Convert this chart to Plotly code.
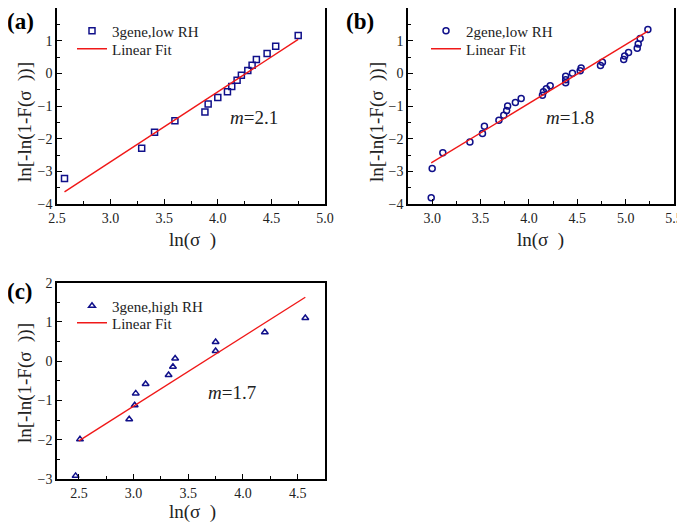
import plotly.graph_objects as go

# ---------------- data ----------------
a_x = [2.57, 3.29, 3.41, 3.60, 3.88, 3.91, 4.00, 4.09, 4.13, 4.18, 4.22, 4.28, 4.32, 4.36, 4.46, 4.54, 4.75]
a_y = [-3.22, -2.29, -1.80, -1.45, -1.18, -0.94, -0.74, -0.56, -0.40, -0.21, -0.06, 0.09, 0.25, 0.42, 0.61, 0.83, 1.16]
a_fit_x = [2.57, 4.75]
a_fit_y = [-3.63, 1.04]

b_x = [2.99, 3.00, 3.11, 3.39, 3.52, 3.54, 3.69, 3.74, 3.77, 3.78, 3.86, 3.92, 4.14, 4.15, 4.18, 4.22,
       4.38, 4.38, 4.38, 4.45, 4.53, 4.54, 4.74, 4.76, 4.98, 4.99, 5.03, 5.12, 5.13, 5.15, 5.23]
b_y = [-3.81, -2.91, -2.43, -2.10, -1.84, -1.62, -1.44, -1.28, -1.14, -1.00, -0.89, -0.77, -0.67, -0.56, -0.47, -0.38,
       -0.29, -0.20, -0.09, 0.00, 0.08, 0.16, 0.24, 0.34, 0.42, 0.53, 0.64, 0.77, 0.90, 1.07, 1.34]
b_fit_x = [2.99, 5.23]
b_fit_y = [-2.74, 1.29]

c_x = [2.47, 2.51, 2.96, 3.01, 3.02, 3.11, 3.32, 3.36, 3.38, 3.75, 3.75, 4.20, 4.57]
c_y = [-2.92, -1.99, -1.48, -1.12, -0.82, -0.58, -0.35, -0.14, 0.07, 0.26, 0.49, 0.74, 1.10]
c_fit_x = [2.50, 4.57]
c_fit_y = [-2.03, 1.63]

names = ["3gene,low RH", "2gene,low RH", "3gene,high RH"]
slopes = ["2.1", "1.8", "1.7"]
panel_labels = ["(a)", "(b)", "(c)"]

# ---------------- style ----------------
W, H = 685, 527          # page size
OX, OY = 8, 8            # page offset of the plot div (body margin)
FW, FH = W - OX, H - OY  # figure size
FONT = "Liberation Serif"
BLUE = "#10108a"
RED = "#f01818"


def px_x(p):
    return min(1.0, max(0.0, (p - OX) / FW))


def px_y(p):
    return min(1.0, max(0.0, 1 - (p - OY) / FH))


fig = go.Figure()

panels = [
    dict(x=a_x, y=a_y, fx=a_fit_x, fy=a_fit_y, sym="square-open", xr=[2.5, 5.0], yr=[-4, 2],
         px=(57, 325), py=(8, 204), leg=(72, 31, 49)),
    dict(x=b_x, y=b_y, fx=b_fit_x, fy=b_fit_y, sym="circle-open", xr=[2.75, 5.5], yr=[-4, 2],
         px=(408, 674), py=(8, 204), leg=(426, 31, 49)),
    dict(x=c_x, y=c_y, fx=c_fit_x, fy=c_fit_y, sym="triangle-up-open", xr=[2.3, 4.75], yr=[-3, 2],
         px=(57, 325), py=(282.7, 479), leg=(72, 306, 323)),
]

annotations = []
layout_axes = {}
legends = {}
for i, p in enumerate(panels):
    sfx = "" if i == 0 else str(i + 1)
    lg1 = "legend" + ("" if i == 0 else str(2 * i + 1))
    lg2 = "legend" + str(2 * i + 2)
    fig.add_trace(go.Scatter(x=p["x"], y=p["y"], mode="markers", name=names[i],
                             marker=dict(symbol=p["sym"], size=6, color=BLUE, line=dict(width=1.5, color=BLUE)),
                             xaxis="x" + sfx, yaxis="y" + sfx, legend=lg1))
    fig.add_trace(go.Scatter(x=p["fx"], y=p["fy"], mode="lines", name="Linear Fit",
                             line=dict(color=RED, width=1.4),
                             xaxis="x" + sfx, yaxis="y" + sfx, legend=lg2))
    x0, x1 = p["px"]
    y0, y1 = p["py"]
    common = dict(showline=True, linecolor="black", linewidth=1.5, mirror=True,
                  ticks="inside", ticklen=5, tickwidth=1.2, tickcolor="black",
                  showgrid=False, zeroline=False, automargin=False,
                  tickfont=dict(family=FONT, size=14, color="#222"),
                  minor=dict(ticks="inside", ticklen=3, tickwidth=1.2, tickcolor="black", showgrid=False))
    layout_axes["xaxis" + sfx] = dict(common, domain=[px_x(x0), px_x(x1)], range=p["xr"], dtick=0.5,
                                      tickformat=".1f", anchor="y" + sfx, minor=dict(common["minor"], dtick=0.25))
    layout_axes["yaxis" + sfx] = dict(common, domain=[px_y(y1), px_y(y0)], range=p["yr"], dtick=1,
                                      anchor="x" + sfx, minor=dict(common["minor"], dtick=0.5))
    lx, ly1, ly2 = p["leg"]
    for lg, ly in ((lg1, ly1), (lg2, ly2)):
        legends[lg] = dict(x=px_x(lx), y=px_y(ly), xanchor="left", yanchor="middle",
                           bgcolor="rgba(0,0,0,0)", font=dict(family=FONT, size=15, color="#222"),
                           tracegroupgap=0, itemsizing="trace")

# axis titles, slope labels, panel labels
title_pos = [
    dict(xt=(192, 240), yt=(25, 122), m=(254, 117), lab=(20, 21)),
    dict(xt=(540, 240), yt=(377, 122), m=(570, 117), lab=(360, 21)),
    dict(xt=(192, 512), yt=(25, 383), m=(232, 392), lab=(20, 291)),
]
for i, t in enumerate(title_pos):
    base = dict(xref="paper", yref="paper", showarrow=False, xanchor="center", yanchor="middle")
    annotations.append(dict(base, text="ln(σ  )", x=px_x(t["xt"][0]), y=px_y(t["xt"][1]),
                            font=dict(family=FONT, size=19, color="#222")))
    annotations.append(dict(base, text="ln[-ln(1-F(σ  ))]", x=px_x(t["yt"][0]), y=px_y(t["yt"][1]),
                            textangle=-90, font=dict(family=FONT, size=19, color="#222")))
    annotations.append(dict(base, text="<i>m</i>=" + slopes[i], x=px_x(t["m"][0]), y=px_y(t["m"][1]),
                            font=dict(family=FONT, size=19, color="#222")))
    annotations.append(dict(base, text="<b>" + panel_labels[i] + "</b>", x=px_x(t["lab"][0]),
                            y=px_y(t["lab"][1]), font=dict(family=FONT, size=23, color="black")))

fig.update_layout(width=FW, height=FH, margin=dict(l=0, r=0, t=0, b=0, pad=0, autoexpand=False),
                  paper_bgcolor="white", plot_bgcolor="white", showlegend=True,
                  annotations=annotations, **layout_axes, **legends)

fig.write_html("out.html")
